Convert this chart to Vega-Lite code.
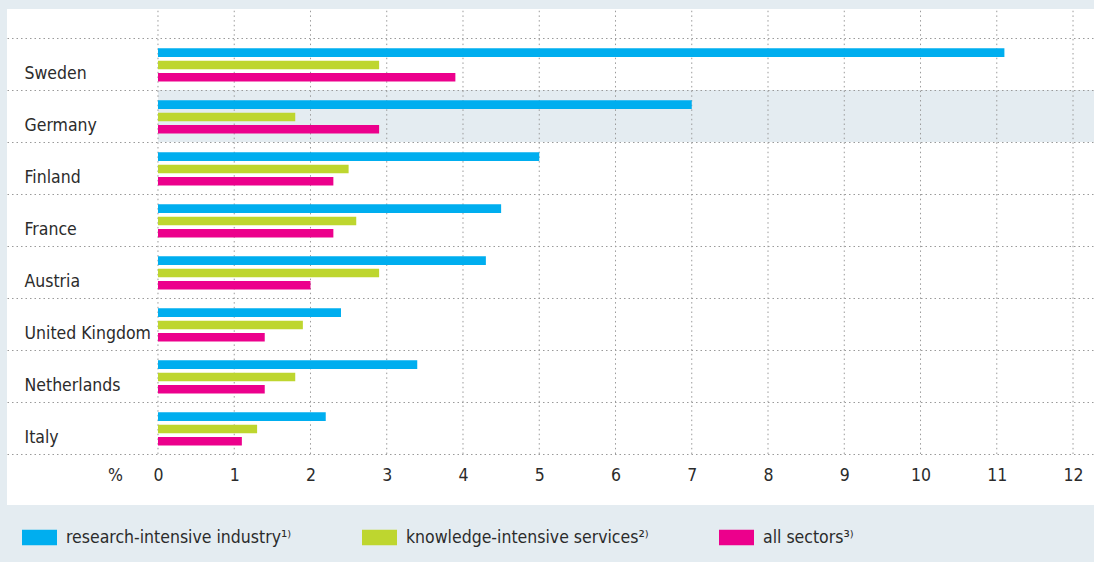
{
  "$schema": "https://vega.github.io/schema/vega-lite/v6.json",
  "width": 1087,
  "height": 496,
  "autosize": {"type": "none"},
  "padding": {"left": 7, "top": 9, "right": 0, "bottom": 57},
  "background": "#e4ecf1",
  "config": {
    "view": {"fill": "white", "stroke": null},
    "font": "Liberation Sans Narrow, DejaVu Sans Condensed, sans-serif"
  },
  "datasets": {
    "bars": [
      {"country": "Sweden", "series": "research-intensive industry¹⁾", "value": 11.1},
      {"country": "Sweden", "series": "knowledge-intensive services²⁾", "value": 2.9},
      {"country": "Sweden", "series": "all sectors³⁾", "value": 3.9},
      {"country": "Germany", "series": "research-intensive industry¹⁾", "value": 7.0},
      {"country": "Germany", "series": "knowledge-intensive services²⁾", "value": 1.8},
      {"country": "Germany", "series": "all sectors³⁾", "value": 2.9},
      {"country": "Finland", "series": "research-intensive industry¹⁾", "value": 5.0},
      {"country": "Finland", "series": "knowledge-intensive services²⁾", "value": 2.5},
      {"country": "Finland", "series": "all sectors³⁾", "value": 2.3},
      {"country": "France", "series": "research-intensive industry¹⁾", "value": 4.5},
      {"country": "France", "series": "knowledge-intensive services²⁾", "value": 2.6},
      {"country": "France", "series": "all sectors³⁾", "value": 2.3},
      {"country": "Austria", "series": "research-intensive industry¹⁾", "value": 4.3},
      {"country": "Austria", "series": "knowledge-intensive services²⁾", "value": 2.9},
      {"country": "Austria", "series": "all sectors³⁾", "value": 2.0},
      {"country": "United Kingdom", "series": "research-intensive industry¹⁾", "value": 2.4},
      {"country": "United Kingdom", "series": "knowledge-intensive services²⁾", "value": 1.9},
      {"country": "United Kingdom", "series": "all sectors³⁾", "value": 1.4},
      {"country": "Netherlands", "series": "research-intensive industry¹⁾", "value": 3.4},
      {"country": "Netherlands", "series": "knowledge-intensive services²⁾", "value": 1.8},
      {"country": "Netherlands", "series": "all sectors³⁾", "value": 1.4},
      {"country": "Italy", "series": "research-intensive industry¹⁾", "value": 2.2},
      {"country": "Italy", "series": "knowledge-intensive services²⁾", "value": 1.3},
      {"country": "Italy", "series": "all sectors³⁾", "value": 1.1}
    ],
    "ticks": [
      {"t": 0}, {"t": 1}, {"t": 2}, {"t": 3}, {"t": 4}, {"t": 5}, {"t": 6},
      {"t": 7}, {"t": 8}, {"t": 9}, {"t": 10}, {"t": 11}, {"t": 12}
    ],
    "highlight": [{"country": "Germany"}]
  },
  "layer": [
    {
      "data": {"name": "highlight"},
      "mark": {"type": "rect", "color": "#e4ecf1"},
      "encoding": {
        "y": {
          "field": "country", "type": "nominal", "title": null,
          "scale": {"domain": ["Sweden", "Germany", "Finland", "France", "Austria", "United Kingdom", "Netherlands", "Italy"], "paddingInner": 0, "paddingOuter": 0.769, "align": 0.3625},
          "axis": {
            "title": null, "domain": false, "ticks": false,
            "labelAlign": "left", "labelPadding": -17, "labelOffset": 9.5,
            "labelBaseline": "middle",
            "labelFontSize": 17.5, "labelColor": "#2b2b2b",
            "grid": true, "tickBand": "extent", "gridDash": [1.5, 3], "gridColor": "#9a9a9a", "gridWidth": 1,
            "zindex": 1
          }
        },
        "x": {
          "datum": 0, "type": "quantitative", "title": "%",
          "scale": {"domain": [-1.98, 12.275], "nice": false, "zero": false},
          "axis": {
            "orient": "bottom", "values": [0, 1, 2, 3, 4, 5, 6, 7, 8, 9, 10, 11, 12],
            "grid": false, "ticks": false, "domain": false,
            "labelPadding": -25, "labelBaseline": "alphabetic", "labelFontSize": 17.5,
            "labelColor": "#2b2b2b", "labelOverlap": false, "labelFlush": false,
            "title": "%", "titleX": 108, "titleY": -25, "titleBaseline": "alphabetic",
            "titleAlign": "center", "titleFontWeight": "normal", "titleFontSize": 17.5, "titleColor": "#2b2b2b"
          }
        },
        "x2": {"datum": 12.275}
      }
    },
    {
      "data": {"name": "ticks"},
      "mark": {"type": "rule", "color": "#9a9a9a", "strokeWidth": 1, "strokeDash": [1.5, 3.2]},
      "encoding": {
        "x": {
          "field": "t", "type": "quantitative", "title": "%",
          "scale": {"domain": [-1.98, 12.275], "nice": false, "zero": false},
          "axis": {
            "orient": "bottom", "values": [0, 1, 2, 3, 4, 5, 6, 7, 8, 9, 10, 11, 12],
            "grid": false, "ticks": false, "domain": false,
            "labelPadding": -25, "labelBaseline": "alphabetic", "labelFontSize": 17.5,
            "labelColor": "#2b2b2b", "labelOverlap": false, "labelFlush": false,
            "title": "%", "titleX": 108, "titleY": -25, "titleBaseline": "alphabetic",
            "titleAlign": "center", "titleFontWeight": "normal", "titleFontSize": 17.5, "titleColor": "#2b2b2b"
          }
        },
        "y": {
          "datum": "Italy", "type": "nominal", "bandPosition": 1, "title": null,
          "scale": {"domain": ["Sweden", "Germany", "Finland", "France", "Austria", "United Kingdom", "Netherlands", "Italy"], "paddingInner": 0, "paddingOuter": 0.769, "align": 0.3625},
          "axis": {
            "title": null, "domain": false, "ticks": false,
            "labelAlign": "left", "labelPadding": -17, "labelOffset": 9.5,
            "labelBaseline": "middle",
            "labelFontSize": 17.5, "labelColor": "#2b2b2b",
            "grid": true, "tickBand": "extent", "gridDash": [1.5, 3], "gridColor": "#9a9a9a", "gridWidth": 1,
            "zindex": 1
          }
        },
        "y2": {"value": 0}
      }
    },
    {
      "data": {"name": "bars"},
      "mark": {"type": "bar"},
      "encoding": {
        "y": {
          "field": "country", "type": "nominal", "title": null,
          "scale": {"domain": ["Sweden", "Germany", "Finland", "France", "Austria", "United Kingdom", "Netherlands", "Italy"], "paddingInner": 0, "paddingOuter": 0.769, "align": 0.3625},
          "axis": {
            "title": null, "domain": false, "ticks": false,
            "labelAlign": "left", "labelPadding": -17, "labelOffset": 9.5,
            "labelBaseline": "middle",
            "labelFontSize": 17.5, "labelColor": "#2b2b2b",
            "grid": true, "tickBand": "extent", "gridDash": [1.5, 3], "gridColor": "#9a9a9a", "gridWidth": 1,
            "zindex": 1
          }
        },
        "yOffset": {
          "field": "series", "type": "nominal",
          "scale": {"domain": ["research-intensive industry¹⁾", "knowledge-intensive services²⁾", "all sectors³⁾"], "paddingInner": 0.3, "paddingOuter": 0.764, "align": 0.55}
        },
        "x": {
          "field": "value", "type": "quantitative", "title": "%",
          "scale": {"domain": [-1.98, 12.275], "nice": false, "zero": false},
          "axis": {
            "orient": "bottom", "values": [0, 1, 2, 3, 4, 5, 6, 7, 8, 9, 10, 11, 12],
            "grid": false, "ticks": false, "domain": false,
            "labelPadding": -25, "labelBaseline": "alphabetic", "labelFontSize": 17.5,
            "labelColor": "#2b2b2b", "labelOverlap": false, "labelFlush": false,
            "title": "%", "titleX": 108, "titleY": -25, "titleBaseline": "alphabetic",
            "titleAlign": "center", "titleFontWeight": "normal", "titleFontSize": 17.5, "titleColor": "#2b2b2b"
          }
        },
        "x2": {"datum": 0},
        "color": {
          "field": "series", "type": "nominal",
          "scale": {"domain": ["research-intensive industry¹⁾", "knowledge-intensive services²⁾", "all sectors³⁾"], "range": ["#00aeef", "#bed62f", "#ec008c"]},
          "legend": {
            "orient": "none", "legendX": 15, "legendY": 511, "direction": "horizontal",
            "title": null, "padding": 0,
            "symbolType": "M-1,-0.443H1V0.443H-1Z", "symbolSize": 1225,
            "symbolStrokeWidth": 0, "symbolOpacity": 1,
            "labelFontSize": 17.5, "labelColor": "#2b2b2b", "labelOffset": 9, "labelLimit": 400,
            "columnPadding": 70
          }
        }
      }
    }
  ]
}
